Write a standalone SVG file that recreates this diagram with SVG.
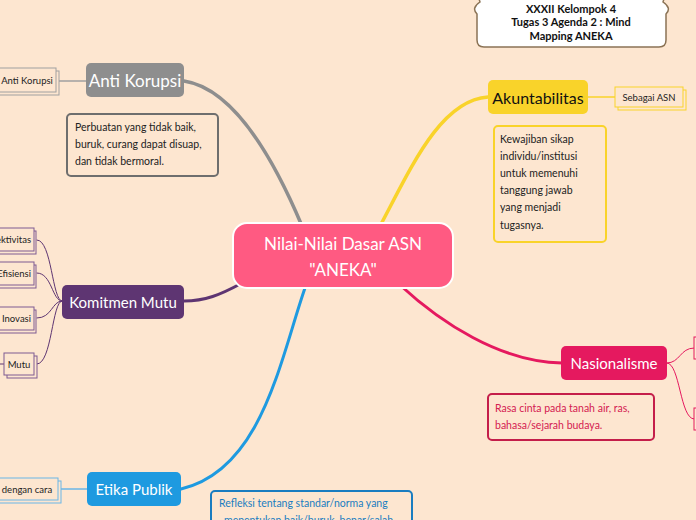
<svg xmlns="http://www.w3.org/2000/svg" width="696" height="520" viewBox="0 0 696 520">
<style>
.bg{fill:#FDE6D0}
.node text{font-family:Lato,"Open Sans",sans-serif;text-anchor:middle;dominant-baseline:central}
.main{fill:#fff;font-size:17px}
.sub{font-size:9.5px;fill:#222}
.node text.end{text-anchor:end}
.desc{font-family:Lato,"Open Sans",sans-serif;font-size:10.5px}
.box{fill:#FDE6D0;stroke-width:1}
.conn path{fill:none;stroke-linecap:round}
</style>
<rect class="bg" x="0" y="0" width="696" height="520"/>

<g id="connectors" class="conn">
  <path d="M302,226 C270,150 230,88 184,81" stroke="#8E8E8E" stroke-width="3.5"/>
  <path d="M380,226 C410,170 440,100 488,97" stroke="#F9D32A" stroke-width="3.5"/>
  <path d="M242,283 C220,295 205,301 184,301" stroke="#5E3572" stroke-width="3"/>
  <path d="M305,288 C280,360 262,470 181,489" stroke="#1E9AE0" stroke-width="3"/>
  <path d="M400,285 C440,322 500,362 562,363" stroke="#E5195F" stroke-width="3"/>
  <path d="M57,81 H86" stroke="#A0A0A0" stroke-width="1.5"/>
  <path d="M588,97 H615" stroke="#F9D32A" stroke-width="1.5"/>
  <path d="M60,489 H87" stroke="#6BB6E6" stroke-width="1.5"/>
  <path d="M62,301 C52,301 52,240 37,240" stroke="#5E3572" stroke-width="1"/>
  <path d="M62,301 C52,301 52,273 37,273" stroke="#5E3572" stroke-width="1"/>
  <path d="M62,301 C52,301 52,318 37,318" stroke="#5E3572" stroke-width="1"/>
  <path d="M62,301 C52,301 52,364 37,364" stroke="#5E3572" stroke-width="1"/>
  <path d="M0,364 H4" stroke="#5E3572" stroke-width="1"/>
  <path d="M667,363 C680,363 680,348 694,348" stroke="#E5195F" stroke-width="1"/>
  <path d="M667,363 C680,363 680,419 694,419" stroke="#E5195F" stroke-width="1"/>
</g>

<g id="title" class="node">
  <path d="M484,-6 H660 Q666,-6 663,2 Q672,8 666,14 V40 Q666,47 659,47 H484 Q477,47 477,40 V14 Q471,8 480,2 Q477,-6 484,-6 Z" fill="#fff" stroke="#8B7355" stroke-width="1.5"/>
  <text x="571" y="8" font-weight="bold" font-size="11" fill="#111">XXXII Kelompok 4</text>
  <text x="571" y="21" font-weight="bold" font-size="11" fill="#111">Tugas 3 Agenda 2 : Mind</text>
  <text x="571" y="35" font-weight="bold" font-size="11" fill="#111">Mapping ANEKA</text>
</g>

<g id="center" class="node">
  <rect x="233" y="223" width="220" height="65" rx="14" fill="#FF5A82" stroke="#fff" stroke-width="2"/>
  <text class="main" x="343" y="243">Nilai-Nilai Dasar ASN</text>
  <text class="main" x="343" y="269">"ANEKA"</text>
</g>

<g id="anti-korupsi" class="node">
  <rect x="86" y="63" width="98" height="34" rx="5" fill="#8E8E8E"/>
  <text class="main" x="135" y="80">Anti Korupsi</text>
</g>
<g id="anti-korupsi-sub" class="node">
  <rect class="box" x="-5" y="71" width="64" height="24" stroke="#A0A0A0"/>
  <rect class="box" x="-5" y="68" width="61" height="24" stroke="#A0A0A0"/>
  <text class="sub" x="27" y="80">Anti Korupsi</text>
</g>
<g id="anti-korupsi-desc">
  <rect x="67" y="114" width="151" height="62" rx="4" fill="#FDE6D0" stroke="#6E6E6E" stroke-width="2"/>
  <text class="desc" x="75" y="131" fill="#222">Perbuatan yang tidak baik,</text>
  <text class="desc" x="75" y="148" fill="#222">buruk, curang dapat disuap,</text>
  <text class="desc" x="75" y="165" fill="#222">dan tidak bermoral.</text>
</g>

<g id="akuntabilitas" class="node">
  <rect x="488" y="80" width="100" height="34" rx="5" fill="#F9D32A"/>
  <text x="538" y="97" font-size="16" fill="#111">Akuntabilitas</text>
</g>
<g id="akuntabilitas-sub" class="node">
  <rect class="box" x="618" y="90" width="68" height="20" stroke="#F9D32A"/>
  <rect class="box" x="615" y="87" width="68" height="20" stroke="#F9D32A"/>
  <text class="sub" x="649" y="97">Sebagai ASN</text>
</g>
<g id="akuntabilitas-desc">
  <rect x="494" y="126" width="112" height="116" rx="4" fill="#FDE6D0" stroke="#F9D32A" stroke-width="2"/>
  <text class="desc" x="500" y="143" fill="#222">Kewajiban sikap</text>
  <text class="desc" x="500" y="160" fill="#222">individu/institusi</text>
  <text class="desc" x="500" y="177" fill="#222">untuk memenuhi</text>
  <text class="desc" x="500" y="194" fill="#222">tanggung jawab</text>
  <text class="desc" x="500" y="211" fill="#222">yang menjadi</text>
  <text class="desc" x="500" y="229" fill="#222">tugasnya.</text>
</g>

<g id="komitmen-mutu" class="node">
  <rect x="62" y="285" width="122" height="34" rx="5" fill="#5E3572"/>
  <text x="123" y="302" font-size="15" fill="#fff">Komitmen Mutu</text>
</g>
<g id="efektivitas" class="node">
  <rect class="box" x="-5" y="231" width="41" height="23" stroke="#7E5A92"/>
  <rect class="box" x="-5" y="228" width="39" height="23" stroke="#7E5A92"/>
  <text class="sub end" x="31" y="239">Efektivitas</text>
</g>
<g id="efisiensi" class="node">
  <rect class="box" x="-5" y="265" width="41" height="23" stroke="#7E5A92"/>
  <rect class="box" x="-5" y="262" width="39" height="23" stroke="#7E5A92"/>
  <text class="sub end" x="31" y="273">Efisiensi</text>
</g>
<g id="inovasi" class="node">
  <rect class="box" x="-5" y="310" width="41" height="23" stroke="#7E5A92"/>
  <rect class="box" x="-5" y="307" width="39" height="23" stroke="#7E5A92"/>
  <text class="sub end" x="31" y="318">Inovasi</text>
</g>
<g id="mutu" class="node">
  <rect class="box" x="7" y="356" width="30" height="22" stroke="#7E5A92"/>
  <rect class="box" x="4" y="353" width="30" height="22" stroke="#7E5A92"/>
  <text class="sub" x="19" y="364">Mutu</text>
</g>

<g id="nasionalisme" class="node">
  <rect x="561" y="346" width="106" height="34" rx="5" fill="#E5195F"/>
  <text x="614" y="363" font-size="15" fill="#fff">Nasionalisme</text>
</g>
<g id="nasionalisme-sub1" class="node">
  <rect class="box" x="694" y="337" width="10" height="22" stroke="#E5195F"/>
</g>
<g id="nasionalisme-sub2" class="node">
  <rect class="box" x="694" y="408" width="10" height="22" stroke="#E5195F"/>
</g>
<g id="nasionalisme-desc">
  <rect x="488" y="394" width="166" height="46" rx="4" fill="#FDE6D0" stroke="#C41E4A" stroke-width="2"/>
  <text class="desc" x="495" y="412" fill="#D42050">Rasa cinta pada tanah air, ras,</text>
  <text class="desc" x="495" y="429" fill="#D42050">bahasa/sejarah budaya.</text>
</g>

<g id="etika-publik" class="node">
  <rect x="87" y="472" width="94" height="34" rx="5" fill="#1E9AE0"/>
  <text x="134" y="489" font-size="15" fill="#fff">Etika Publik</text>
</g>
<g id="etika-sub" class="node">
  <rect class="box" x="-5" y="481" width="66" height="22" stroke="#6BB6E6"/>
  <rect class="box" x="-5" y="478" width="63" height="22" stroke="#6BB6E6"/>
  <text class="sub" x="27" y="489">dengan cara</text>
</g>
<g id="etika-desc">
  <rect x="211" y="491" width="201" height="40" rx="4" fill="#FDE6D0" stroke="#1A7DC0" stroke-width="2"/>
  <text class="desc" x="219" y="507" fill="#1A7DC0">Refleksi tentang standar/norma yang</text>
  <text class="desc" x="224" y="524" fill="#1A7DC0">menentukan baik/buruk, benar/salah</text>
</g>
</svg>
